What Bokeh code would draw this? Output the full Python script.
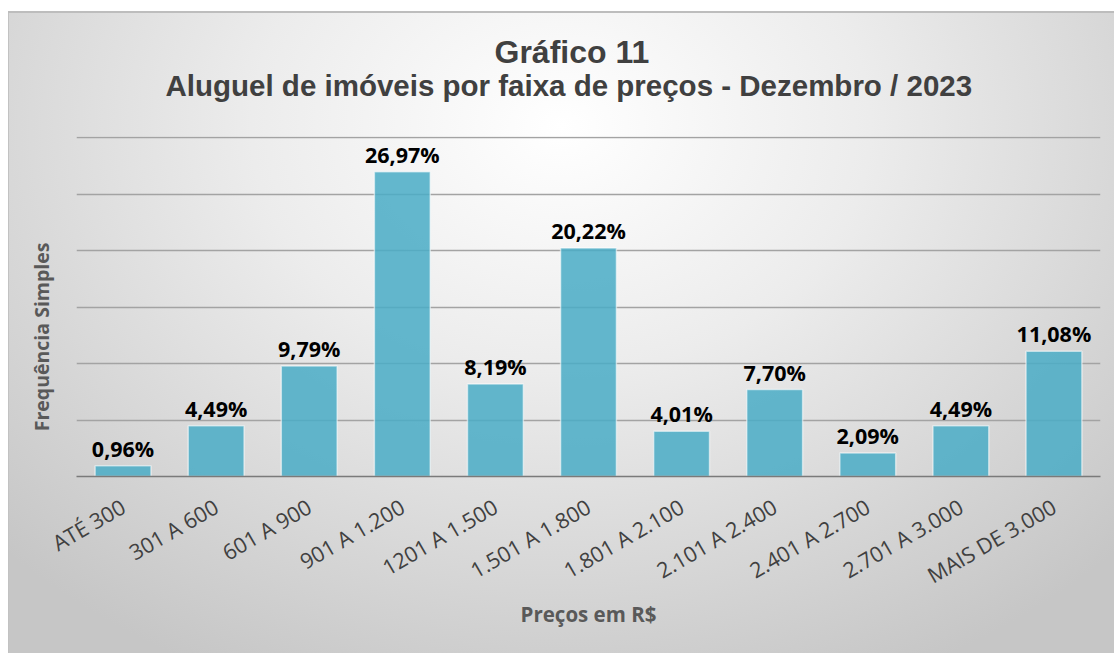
import math
from bokeh.plotting import figure
from bokeh.models import ColumnDataSource, FactorRange, Range1d, FixedTicker, LabelSet, Title
from bokeh.core.properties import value
from bokeh.embed import file_html
from bokeh.resources import INLINE

# ---- data ----
categories = ["ATÉ 300", "301 A 600", "601 A 900", "901 A 1.200", "1201 A 1.500",
              "1.501 A 1.800", "1.801 A 2.100", "2.101 A 2.400", "2.401 A 2.700",
              "2.701 A 3.000", "MAIS DE 3.000"]
values = [0.96, 4.49, 9.79, 26.97, 8.19, 20.22, 4.01, 7.70, 2.09, 4.49, 11.08]
y_ticks = [0, 5, 10, 15, 20, 25, 30]
title_line1 = "Gráfico 11"
title_line2 = "Aluguel de imóveis por faixa de preços - Dezembro / 2023"
x_label = "Preços em R$"
y_label = "Frequência Simples"

labels = [f"{v:.2f}".replace(".", ",") + "%" for v in values]
src = ColumnDataSource(dict(cat=categories, val=values, lab=labels))

p = figure(x_range=FactorRange(factors=categories, range_padding=0),
           y_range=Range1d(0, 30.1),
           width=1106, height=642,
           output_backend="svg", toolbar_location=None,
           min_border_left=68, min_border_right=14,
           min_border_top=125, min_border_bottom=177)

p.background_fill_color = None
p.border_fill_color = None
p.outline_line_color = None
p.styles = {
    "margin-left": "8px",
    "margin-top": "11px",
    "background": "radial-gradient(ellipse 70% 95% at 50% 18%, #ffffff 0%, #ececec 40%, #c6c6c6 100%)",
    "box-shadow": "inset 0 2px 0 #bdbdbd, inset 1px 0 0 #c2c2c2",
}

p.vbar(x="cat", top="val", width=0.6, source=src,
       fill_color="#4BACC6", fill_alpha=0.86,
       line_color="#ffffff", line_alpha=0.55, line_width=1.5)

p.add_layout(LabelSet(x="cat", y="val", text="lab", source=src,
                      text_align="center", text_baseline="alphabetic", y_offset=9,
                      text_font=value("Open Sans"), text_font_style="bold",
                      text_font_size="21.5px", text_color="#000000"))

# grid
p.xgrid.grid_line_color = None
p.ygrid.ticker = FixedTicker(ticks=y_ticks)
p.ygrid.grid_line_color = "#a3a3a3"
p.ygrid.grid_line_width = 1.5

# y axis: no tick labels in the reference, only the title
p.yaxis.ticker = FixedTicker(ticks=[])
p.yaxis.major_tick_line_color = None
p.yaxis.minor_tick_line_color = None
p.yaxis.axis_line_color = None
p.yaxis.major_tick_out = 0
p.yaxis.major_label_standoff = 0
# trailing no-break spaces push the visible label lower along the axis, as in the reference
p.yaxis.axis_label = y_label + "\u00a0" * 12
p.yaxis.axis_label_text_font = "Open Sans"
p.yaxis.axis_label_text_font_style = "bold"
p.yaxis.axis_label_text_font_size = "19.5px"
p.yaxis.axis_label_text_color = "#595959"
p.yaxis.axis_label_standoff = 22

# x axis
p.xaxis.axis_line_color = "#7a7a7a"
p.xaxis.axis_line_width = 1.5
p.xaxis.major_tick_line_color = None
p.xaxis.minor_tick_line_color = None
p.xaxis.major_label_orientation = math.radians(30)
p.xaxis.major_label_text_font = "Open Sans"
p.xaxis.major_label_text_font_size = "21.5px"
p.xaxis.major_label_text_color = "#404040"
p.xaxis.major_label_standoff = 22
p.xaxis.axis_label = x_label
p.xaxis.axis_label_text_font = "Open Sans"
p.xaxis.axis_label_text_font_style = "bold"
p.xaxis.axis_label_text_font_size = "20.5px"
p.xaxis.axis_label_text_color = "#595959"
p.xaxis.axis_label_standoff = -5

# titles (first added sits closest to the plot): invisible spacer, line 2, line 1
p.add_layout(Title(text="\u00a0", align="left", standoff=21.5,
                   text_font_size="10px", text_color="#ffffff"), "above")
p.add_layout(Title(text=title_line2, align="left", offset=89, standoff=0,
                   text_font="Liberation Sans", text_font_style="bold",
                   text_font_size="29.5px", text_color="#404040"), "above")
p.add_layout(Title(text=title_line1, align="left", offset=418, standoff=-6,
                   text_font="Liberation Sans", text_font_style="bold",
                   text_font_size="32px", text_color="#404040"), "above")

open("out.html", "w").write(file_html(p, INLINE))
